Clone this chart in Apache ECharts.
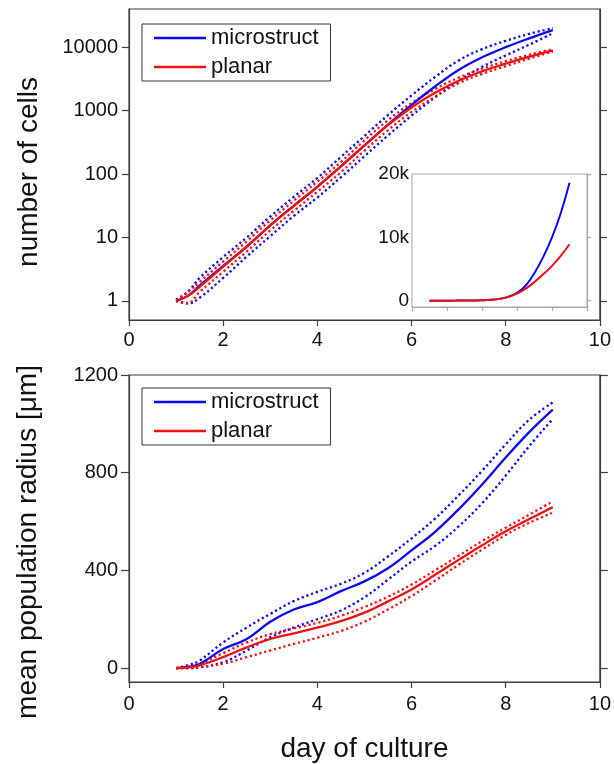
<!DOCTYPE html>
<html>
<head>
<meta charset="utf-8">
<script src="https://cdn.jsdelivr.net/npm/echarts@6/dist/echarts.min.js"></script>
<style>
    html, body { margin: 0; padding: 0; background: #fff; }
    #main { width: 614px; height: 764px; }
</style>
</head>
<body>
<div id="main"></div>
<script>
;(function () {

    // day of culture (x values shared by every curve)
    var days = [1, 1.25, 1.5, 2, 2.5, 3, 3.5, 4, 4.5, 5, 5.5, 6, 6.5, 7, 7.5, 8, 8.5, 9];

    // number of cells (top panel + inset)
    var cellsMicro   = [1, 1.2, 1.74, 3.55, 7.2, 15.5, 31.6, 63, 132, 282, 603, 1230, 2399, 4365, 6918, 10000, 13800, 18600];
    var cellsMicroHi = [1.05, 1.4, 2.3, 4.9, 10, 21.4, 43.7, 87, 186, 398, 851, 1738, 3388, 6166, 9333, 12590, 16220, 19950];
    var cellsMicroLo = [1, 0.91, 1.12, 2.3, 5.0, 10.5, 21.9, 42.7, 89, 191, 407, 832, 1622, 2951, 4898, 7413, 10960, 16600];
    var cellsPlanar   = [1, 1.2, 1.66, 3.47, 7.2, 15.5, 31.6, 63, 132, 282, 589, 1122, 1905, 2951, 4169, 5495, 7079, 8913];
    var cellsPlanarHi = [1.02, 1.38, 2.0, 4.17, 8.7, 18.6, 38, 76, 155, 339, 708, 1318, 2188, 3311, 4571, 6026, 7586, 9333];
    var cellsPlanarLo = [1, 0.93, 1.38, 2.88, 6.0, 12.9, 26.3, 52.5, 107, 234, 490, 955, 1660, 2692, 3802, 5012, 6607, 8511];

    // mean population radius [um] (bottom panel)
    var radiusMicro   = [0, 5, 17, 78, 119, 190, 240, 270, 315, 355, 409, 482, 558, 650, 752, 862, 966, 1058];
    var radiusMicroHi = [0, 12, 31, 105, 166, 222, 274, 312, 345, 390, 457, 531, 612, 707, 808, 916, 1017, 1088];
    var radiusMicroLo = [0, 0, 3, 24, 72, 126, 166, 200, 236, 290, 362, 436, 500, 580, 675, 788, 909, 1020];
    var radiusPlanar   = [0, 3, 11, 45, 85, 119, 142, 166, 192, 227, 273, 322, 382, 443, 503, 560, 610, 659];
    var radiusPlanarHi = [0, 6, 18, 61, 105, 139, 162, 185, 214, 250, 292, 342, 400, 460, 520, 575, 628, 683];
    var radiusPlanarLo = [0, 0, 4, 18, 45, 72, 99, 124, 152, 190, 240, 295, 358, 423, 485, 545, 595, 636];

    // tick values
    var cellTicks = [1, 10, 100, 1000, 10000];
    var insetTicks = [0, 10000, 20000];
    var insetTickLabels = ['0', '10k', '20k'];
    var radiusTicks = [0, 400, 800, 1200];

    var BLUE = '#0a0af0';
    var RED = '#f01010';
    var FONT = '"Liberation Sans", Arial, sans-serif';
    var FRAME = '#3c3c3c';

    function pairs(xs, ys) {
        return xs.map(function (x, i) { return [x, ys[i]]; });
    }

    function plain(v) {
        return String(v);
    }

    function curve(name, color, ys, dotted, xIdx, yIdx, width) {
        return {
            name: name,
            type: 'line',
            xAxisIndex: xIdx,
            yAxisIndex: yIdx,
            data: pairs(days, ys),
            color: color,
            showSymbol: false,
            symbol: 'none',
            smooth: 0.4,
            silent: true,
            lineStyle: {
                color: color,
                width: width || 2.3,
                type: dotted ? [2.2, 2.8] : 'solid'
            },
            z: dotted ? 2 : 3
        };
    }

    function xAxisBase(grid, showLabels, lineColor, tickLen) {
        return {
            gridIndex: grid,
            type: 'value',
            min: 0,
            max: 10,
            interval: 2,
            axisLine: { show: true, onZero: false, lineStyle: { color: lineColor, width: 1.2 } },
            axisTick: { show: true, inside: false, length: tickLen, lineStyle: { color: lineColor, width: 1.2 } },
            axisLabel: { show: showLabels, margin: 10, fontSize: 20, color: '#111', fontFamily: FONT, formatter: plain },
            splitLine: { show: false }
        };
    }

    function yAxisBase(grid, pos, type, min, max, ticks, showLabels, lineColor, tickLen) {
        return {
            gridIndex: grid,
            type: type,
            position: pos,
            min: min,
            max: max,
            axisLine: { show: true, onZero: false, lineStyle: { color: lineColor, width: 1.2 } },
            axisTick: { show: true, inside: false, length: tickLen, customValues: ticks,
                lineStyle: { color: lineColor, width: 1.2 } },
            axisLabel: { show: showLabels, customValues: ticks, margin: 11, fontSize: 20,
                color: '#111', fontFamily: FONT, formatter: plain },
            splitLine: { show: false },
            minorTick: { show: false }
        };
    }

    function legendBox(top) {
        return {
            orient: 'vertical',
            left: 142,
            top: top,
            data: ['microstruct', 'planar'],
            icon: 'rect',
            itemWidth: 52,
            itemHeight: 2.5,
            itemGap: 7,
            selectedMode: false,
            borderColor: '#333',
            borderWidth: 1,
            borderRadius: 0,
            backgroundColor: '#fff',
            padding: [3, 12, 3, 12],
            textStyle: { fontSize: 22, color: '#111', fontFamily: FONT, lineHeight: 22 }
        };
    }

    var yCellsL = yAxisBase(0, 'left', 'log', 0.5, 40000, cellTicks, true, FRAME, 7);
    yCellsL.logBase = 10;
    var yCellsR = yAxisBase(0, 'right', 'log', 0.5, 40000, cellTicks, false, FRAME, 7);
    yCellsR.logBase = 10;

    var yInsetL = yAxisBase(1, 'left', 'value', -1000, 20000, insetTicks, true, '#a8a8a8', 0);
    yInsetL.axisLabel.margin = 3;
    yInsetL.axisLabel.fontSize = 19;
    yInsetL.axisLabel.formatter = function (v) {
        return insetTickLabels[insetTicks.indexOf(v)];
    };
    var yInsetR = yAxisBase(1, 'right', 'value', -1000, 20000, insetTicks, false, '#a8a8a8', 4);

    var yRadL = yAxisBase(2, 'left', 'value', -57, 1200, radiusTicks, true, FRAME, 8);
    var yRadR = yAxisBase(2, 'right', 'value', -57, 1200, radiusTicks, false, FRAME, 8);

    var xTop = xAxisBase(0, true, FRAME, 6);
    var xInset = xAxisBase(1, false, '#a8a8a8', 4);
    var xBottom = xAxisBase(2, true, FRAME, 6);
    xBottom.axisLabel.margin = 12;
    xBottom.name = 'day of culture';
    xBottom.nameLocation = 'middle';
    xBottom.nameGap = 53;
    xBottom.nameTextStyle = { fontSize: 28, color: '#111', fontFamily: FONT };

    var option = {
        animation: false,
        backgroundColor: '#fff',
        grid: [
            { left: 129, top: 9, width: 471, height: 311, show: true, borderColor: FRAME, borderWidth: 1.2, backgroundColor: 'transparent' },
            { left: 412, top: 174, width: 175, height: 133, show: true, borderColor: '#a8a8a8', borderWidth: 1, backgroundColor: '#fff', z: 5 },
            { left: 129, top: 375, width: 471, height: 310, show: true, borderColor: FRAME, borderWidth: 1.2, backgroundColor: 'transparent' }
        ],
        xAxis: [xTop, xInset, xBottom],
        yAxis: [yCellsL, yCellsR, yInsetL, yInsetR, yRadL, yRadR],
        legend: [legendBox(24), legendBox(388)],
        graphic: [
            { type: 'text', x: 29, y: 172, rotation: Math.PI / 2, silent: true,
              style: { text: 'number of cells', fontSize: 28, fontFamily: FONT, fill: '#111', align: 'center', verticalAlign: 'middle' } },
            { type: 'text', x: 28, y: 542, rotation: Math.PI / 2, silent: true,
              style: { text: 'mean population radius [\u03bcm]', fontSize: 28, fontFamily: FONT, fill: '#111', align: 'center', verticalAlign: 'middle' } }
        ],
        series: [
            curve('microstruct upper', BLUE, cellsMicroHi, true, 0, 0),
            curve('microstruct lower', BLUE, cellsMicroLo, true, 0, 0),
            curve('planar upper', RED, cellsPlanarHi, true, 0, 0),
            curve('planar lower', RED, cellsPlanarLo, true, 0, 0),
            curve('microstruct', BLUE, cellsMicro, false, 0, 0),
            curve('planar', RED, cellsPlanar, false, 0, 0),

            curve('microstruct', BLUE, cellsMicro, false, 1, 2, 2),
            curve('planar', RED, cellsPlanar, false, 1, 2, 2),

            curve('microstruct upper', BLUE, radiusMicroHi, true, 2, 4),
            curve('microstruct lower', BLUE, radiusMicroLo, true, 2, 4),
            curve('planar upper', RED, radiusPlanarHi, true, 2, 4),
            curve('planar lower', RED, radiusPlanarLo, true, 2, 4),
            curve('microstruct', BLUE, radiusMicro, false, 2, 4),
            curve('planar', RED, radiusPlanar, false, 2, 4)
        ]
    };

    // inset drawn above the main curves
    option.series[6].z = 6;
    option.series[7].z = 6;

    var chart = echarts.init(document.getElementById('main'), null, { renderer: 'canvas' });
    chart.setOption(option);
})();
</script>
</body>
</html>
